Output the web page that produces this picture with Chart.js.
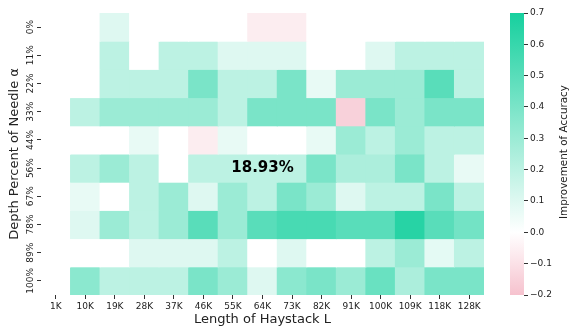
<!DOCTYPE html>
<html>
<head>
<meta charset="utf-8">
<script src="https://cdn.jsdelivr.net/npm/chart.js@4.4.0/dist/chart.umd.min.js"></script>
<style>
  html, body { margin: 0; padding: 0; background: #fff; }
  #wrap { position: relative; width: 570px; height: 328px; }
  #main { position: absolute; left: 0; top: 0; width: 492px; height: 328px; }
  #side { position: absolute; left: 496px; top: 0; width: 74px; height: 328px; }
</style>
</head>
<body>
<div id="wrap">
  <div id="main"><canvas id="heat"></canvas></div>
  <div id="side"><canvas id="cbar"></canvas></div>
</div>
<script>
// haystack lengths (columns) and needle depths (rows)
const lengths = ['1K', '10K', '19K', '28K', '37K', '46K', '55K', '64K', '73K', '82K', '91K', '100K', '109K', '118K', '128K'];
const depths = ['0%', '11%', '22%', '33%', '44%', '56%', '67%', '78%', '89%', '100%'];

// improvement of accuracy, one array per depth row
const depth0   = [0, 0, 0.1, 0, 0, 0, 0, -0.06, -0.06, 0, 0, 0, 0, 0, 0];
const depth11  = [0, 0, 0.2, 0, 0.2, 0.2, 0.1, 0.1, 0.1, 0, 0, 0.1, 0.2, 0.2, 0.2];
const depth22  = [0, 0, 0.2, 0.2, 0.2, 0.4, 0.2, 0.2, 0.4, 0.07, 0.3, 0.3, 0.3, 0.5, 0.2];
const depth33  = [0, 0.2, 0.3, 0.3, 0.3, 0.3, 0.2, 0.4, 0.4, 0.4, -0.15, 0.4, 0.3, 0.4, 0.4];
const depth44  = [0, 0, 0, 0.07, 0, -0.06, 0.07, 0, 0, 0.07, 0.3, 0.2, 0.3, 0.2, 0.2];
const depth56  = [0, 0.2, 0.3, 0.2, 0, 0.2, 0.2, 0.2, 0.2, 0.4, 0.25, 0.25, 0.4, 0.2, 0.07];
const depth67  = [0, 0.07, 0, 0.2, 0.3, 0.1, 0.3, 0.2, 0.4, 0.3, 0.1, 0.2, 0.2, 0.4, 0.2];
const depth78  = [0, 0.1, 0.3, 0.2, 0.3, 0.5, 0.3, 0.5, 0.55, 0.55, 0.5, 0.5, 0.65, 0.5, 0.42];
const depth89  = [0, 0, 0, 0.1, 0.1, 0.1, 0.2, 0, 0.1, 0, 0, 0.2, 0.3, 0.08, 0.2];
const depth100 = [0, 0.35, 0.2, 0.2, 0.2, 0.4, 0.3, 0.1, 0.35, 0.4, 0.3, 0.45, 0.25, 0.4, 0.4];
const improvement = [depth0, depth11, depth22, depth33, depth44, depth56, depth67, depth78, depth89, depth100];

// colour scale range and ticks
const vMin = -0.2, vMax = 0.7;
const cbarTicks = [-0.2, -0.1, 0, 0.1, 0.2, 0.3, 0.4, 0.5, 0.6, 0.7];
const cbarLabels = ['\u22120.2', '\u22120.1', '0.0', '0.1', '0.2', '0.3', '0.4', '0.5', '0.6', '0.7'];

// average label placed on one cell
const avgText = '18.93%';
const avgCol = '64K';
const avgRow = '56%';

const TEAL = [22, 208, 158];
const PINK = [246, 194, 206];

function colorFor(v) {
    let c, t;
    if (v >= 0) { c = TEAL; t = Math.min(v / vMax, 1); }
    else { c = PINK; t = Math.min(v / vMin, 1); }
    const r = Math.round(255 + (c[0] - 255) * t);
    const g = Math.round(255 + (c[1] - 255) * t);
    const b = Math.round(255 + (c[2] - 255) * t);
    return `rgb(${r},${g},${b})`;
}

Chart.defaults.font.family = 'DejaVu Sans';
Chart.defaults.color = '#222';
Chart.defaults.animation = false;

// --- heatmap: one stacked bar dataset per depth row ---
const datasets = improvement.map((row, r) => ({
    label: depths[r],
    data: lengths.map(() => 1),
    backgroundColor: row.map(colorFor),
    borderWidth: 0,
    barPercentage: 1,
    categoryPercentage: 1,
    inflateAmount: 0.5
}));

const avgLabel = {
    id: 'avgLabel',
    afterDatasetsDraw(chart) {
        const { ctx, scales } = chart;
        const x = scales.x.getPixelForValue(lengths.indexOf(avgCol));
        const y = scales.y.getPixelForValue(depths.indexOf(avgRow) + 0.5);
        ctx.save();
        ctx.font = 'bold 15px DejaVu Sans';
        ctx.fillStyle = '#000';
        ctx.textAlign = 'center';
        ctx.textBaseline = 'middle';
        ctx.fillText(avgText, x, y);
        ctx.restore();
    }
};

new Chart(document.getElementById('heat'), {
    type: 'bar',
    data: { labels: lengths, datasets: datasets },
    options: {
        responsive: true,
        maintainAspectRatio: false,
        layout: { padding: { left: 0, right: 8, top: 13, bottom: 0 } },
        plugins: { legend: { display: false }, tooltip: { enabled: false } },
        scales: {
            x: {
                stacked: true,
                afterFit: axis => { axis.height = 33; },
                grid: { offset: false, drawOnChartArea: false, tickLength: 4, color: '#333' },
                border: { display: false },
                ticks: { font: { size: 9 }, maxRotation: 0, autoSkip: false, padding: 2 },
                title: { display: true, text: 'Length of Haystack L', font: { size: 13 }, padding: { top: 0, bottom: 1 } }
            },
            y: {
                stacked: true,
                min: 0,
                max: depths.length,
                reverse: true,
                afterFit: axis => { axis.width = 41; },
                afterBuildTicks: axis => { axis.ticks = depths.map((d, i) => ({ value: i + 0.5 })); },
                grid: { drawOnChartArea: false, tickLength: 4, color: '#333' },
                border: { display: false },
                ticks: {
                    font: { size: 9 },
                    minRotation: 90,
                    maxRotation: 90,
                    crossAlign: 'center',
                    autoSkip: false,
                    padding: -7,
                    callback: v => depths[Math.floor(v)]
                },
                title: { display: true, text: 'Depth Percent of Needle α', font: { size: 13 }, padding: { top: 7, bottom: 0 } }
            }
        }
    },
    plugins: [avgLabel]
});

// --- colour bar: a single floating bar with a gradient fill ---
function barGradient(context) {
    const chart = context.chart;
    if (!chart.chartArea) return null;
    const y = chart.scales.y;
    const y0 = y.getPixelForValue(vMin), y1 = y.getPixelForValue(vMax);
    const g = chart.ctx.createLinearGradient(0, y0, 0, y1);
    for (let i = 0; i <= 18; i++) {
        const v = vMin + (vMax - vMin) * i / 18;
        g.addColorStop(i / 18, colorFor(v));
    }
    return g;
}

const cbarTitle = {
    id: 'cbarTitle',
    afterDraw(chart) {
        const { ctx, chartArea } = chart;
        ctx.save();
        ctx.translate(chart.width - 6, (chartArea.top + chartArea.bottom) / 2 - 2);
        ctx.rotate(-Math.PI / 2);
        ctx.font = '10.4px DejaVu Sans';
        ctx.fillStyle = '#222';
        ctx.textAlign = 'center';
        ctx.textBaseline = 'middle';
        ctx.fillText('Improvement of Accuracy', 0, 0);
        ctx.restore();
    }
};

new Chart(document.getElementById('cbar'), {
    type: 'bar',
    data: {
        labels: ['scale'],
        datasets: [{
            data: [[vMin, vMax]],
            backgroundColor: barGradient,
            borderWidth: 0,
            barPercentage: 1,
            categoryPercentage: 1
        }]
    },
    options: {
        responsive: true,
        maintainAspectRatio: false,
        layout: { padding: { left: 14, right: 16, top: 13, bottom: 33 } },
        plugins: { legend: { display: false }, tooltip: { enabled: false } },
        scales: {
            x: { display: false },
            y: {
                position: 'right',
                min: vMin,
                max: vMax,
                afterFit: axis => { axis.width = 30; },
                afterBuildTicks: axis => { axis.ticks = cbarTicks.map(v => ({ value: v })); },
                grid: { drawOnChartArea: false, tickLength: 4, color: '#333' },
                border: { display: false },
                ticks: {
                    font: { size: 9 },
                    padding: 2,
                    callback: (v, i) => cbarLabels[i]
                }
            }
        }
    },
    plugins: [cbarTitle]
});
</script>
</body>
</html>
